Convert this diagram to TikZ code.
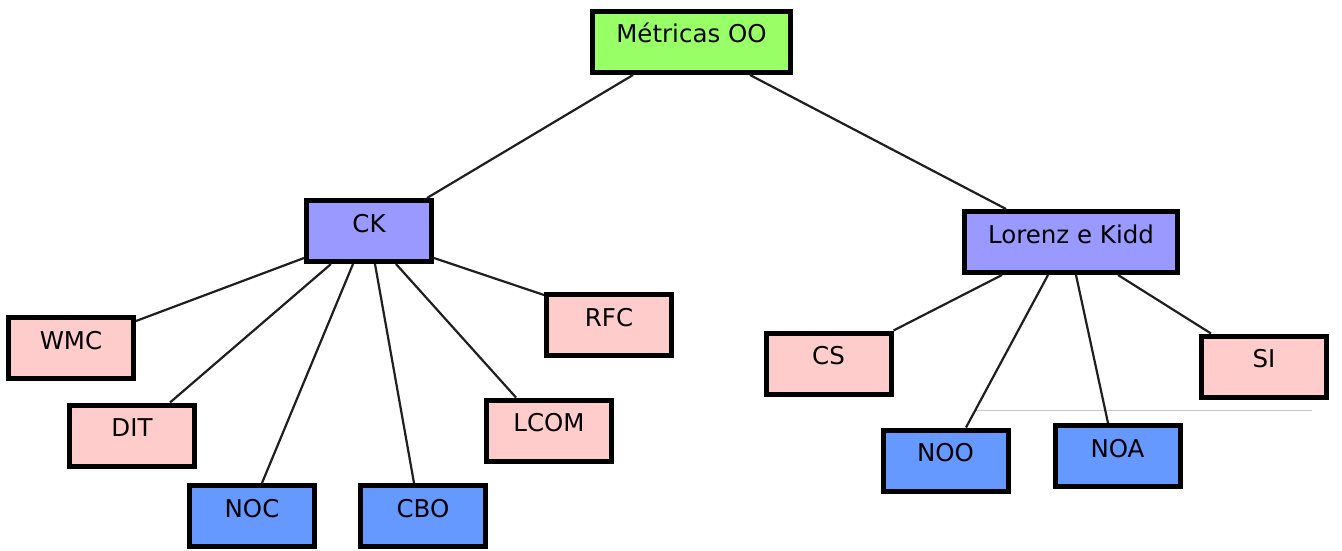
\documentclass[tikz,border=0pt]{standalone}
\usepackage{fontspec}
\setmainfont{DejaVu Sans}
\definecolor{cgreen}{HTML}{99FF66}
\definecolor{clav}{HTML}{9999FF}
\definecolor{cpink}{HTML}{FFCCCC}
\definecolor{cblue}{HTML}{6699FF}
\begin{document}
\begin{tikzpicture}[x=1pt,y=-1pt,
  box/.style={draw=black, line width=5pt, minimum width=125pt, minimum height=61pt,
    inner xsep=0pt, inner ysep=0pt, text height=31.5pt, text depth=29.5pt,
    font=\fontsize{24.5}{29}\selectfont},
  root/.style={box, fill=cgreen, minimum width=198pt},
  group/.style={box, fill=clav},
  leafp/.style={box, fill=cpink},
  leafb/.style={box, fill=cblue},
  link/.style={draw=black!88, line width=2.2pt},
  rule/.style={draw=black!22, line width=1pt}]
\useasboundingbox[fill=white] (0,0) rectangle (1342,551);

\node[root] (met) at (691.5,42) {Métricas OO};
\node[group] (ck) at (369,231) {CK};
\node[group, minimum width=213pt] (lk) at (1071,242) {Lorenz e Kidd};
\node[leafp] (wmc) at (71,348) {WMC};
\node[leafp] (dit) at (132,435.5) {DIT};
\node[leafb] (noc) at (252,516) {NOC};
\node[leafb] (cbo) at (423,516) {CBO};
\node[leafp] (lcom) at (549,430.5) {LCOM};
\node[leafp] (rfc) at (609,325) {RFC};
\node[leafp] (cs) at (828.5,363.5) {CS};
\node[leafp] (si) at (1264,366.5) {SI};
\node[leafb] (noo) at (945.5,460.5) {NOO};
\node[leafb] (noa) at (1117.5,456) {NOA};

\coordinate (g1) at (975,410);
\coordinate (g2) at (1312,410);
\draw[rule] (g1) -- (g2);

\draw[link] ([xshift=43pt]met.south west) -- ([xshift=-7pt]ck.north east);
\draw[link] ([xshift=160pt]met.south west) -- ([xshift=44pt]lk.north west);

\draw[link] ([yshift=6pt]ck.south west) -- ([yshift=-6pt]wmc.north east);
\draw[link] ([xshift=27pt]ck.south west) -- ([xshift=103pt]dit.north west);
\draw[link] ([xshift=49pt]ck.south west) -- ([xshift=75pt]noc.north west);
\draw[link] ([xshift=71pt]ck.south west) -- ([xshift=56pt]cbo.north west);
\draw[link] ([xshift=92pt]ck.south west) -- ([xshift=32pt]lcom.north west);
\draw[link] ([yshift=6pt]ck.south east) -- ([yshift=-3pt]rfc.north west);

\draw[link] ([xshift=40pt]lk.south west) -- (cs.north east);
\draw[link] ([xshift=86pt]lk.south west) -- ([xshift=85.5pt]noo.north west);
\draw[link] ([xshift=114pt]lk.south west) -- ([xshift=55.5pt]noa.north west);
\draw[link] ([xshift=156pt]lk.south west) -- ([xshift=12pt]si.north west);
\end{tikzpicture}
\end{document}
